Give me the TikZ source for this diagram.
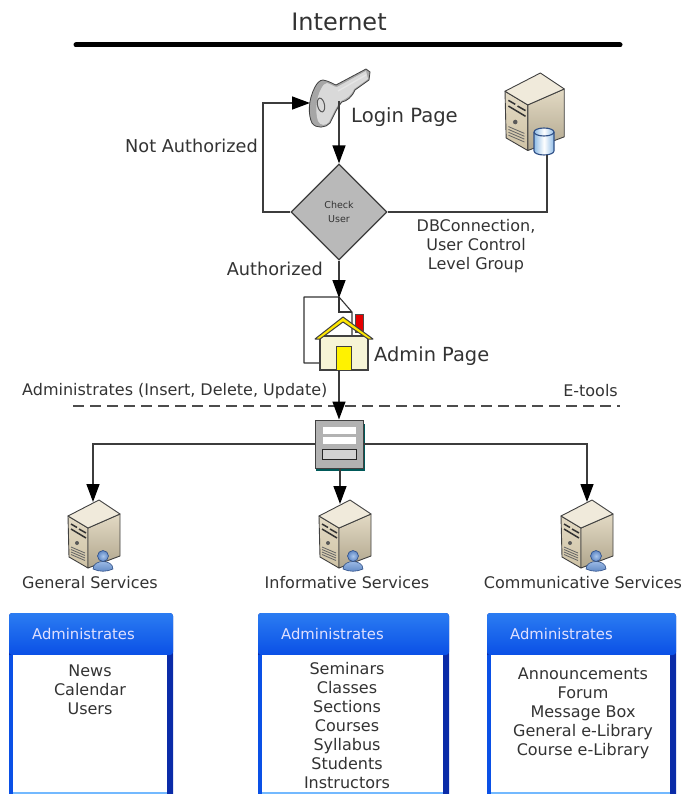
\documentclass[tikz,border=0pt]{standalone}
\usepackage{fontspec}
\setmainfont{DejaVu Sans}
\usetikzlibrary{arrows.meta,shapes.geometric,calc}
\definecolor{inktext}{HTML}{333333}
\definecolor{inkline}{HTML}{3C3C3C}
\definecolor{blueh}{HTML}{0A50E6}
\definecolor{bluetop}{HTML}{2B7CF2}
\definecolor{bluedark}{HTML}{0A2BA8}
\definecolor{towerlight}{HTML}{F0EADB}
\definecolor{towermid}{HTML}{E3DAC4}
\definecolor{towerdark}{HTML}{CFC3A6}
\definecolor{userlight}{HTML}{A9C6EC}
\definecolor{userdark}{HTML}{5E86C4}
\definecolor{userline}{HTML}{2F4F86}
\definecolor{cylblue}{HTML}{8FBCE6}
\tikzset{
  wire/.style={draw=inkline, line width=1.4pt},
  flow/.style={wire, -{Triangle[length=18pt,width=13pt,color=black]}},
  label/.style={text=inktext, inner sep=0pt, font=\fontsize{17.7}{21}\selectfont},
  smalllabel/.style={text=inktext, inner sep=0pt, align=center, font=\fontsize{16}{19}\selectfont},
  listtext/.style={smalllabel, anchor=north},
  headtext/.style={text=white!88!blue, inner sep=0pt, font=\fontsize{14.8}{17}\selectfont},
  servericon/.pic={
    % tower, origin at the top left of the box
    \shade[top color=towermid, bottom color=towerdark, draw=black!75, line width=0.9pt, line join=round]
      (0,16) -- (20,28) -- (20,68) -- (1,57) -- cycle;
    \shade[top color=towermid, bottom color=towerdark!85!black, draw=black!75, line width=0.9pt, line join=round]
      (20,28) -- (52,14) -- (52,56) -- (20,68) -- cycle;
    \fill[towerlight, draw=black!75, line width=0.9pt, line join=round]
      (0,16) -- (31,0) -- (52,14) -- (20,28) -- cycle;
    \draw[black!80, line width=1.5pt] (3,24) -- (9,27.5) (11,29) -- (18,33) (3,29) -- (18,38);
    \fill[black!65] (9,43) circle (2);
    \foreach \gy in {50,52.5,55,57.5}
      \draw[black!60, line width=0.8pt] (3,\gy-3) -- (17,\gy+3);
  },
  usericon/.pic={
    \shade[top color=userlight, bottom color=userdark, draw=userline, line width=0.6pt]
      (-10,10) .. controls (-10,0) and (10,0) .. (10,10) .. controls (4,13) and (-4,13) .. (-10,10) -- cycle;
    \shade[inner color=userlight, outer color=userdark, draw=userline, line width=0.6pt] (0,-3) circle (5.5);
  },
}
\begin{document}
\begin{tikzpicture}[x=1pt,y=-1pt]
  \useasboundingbox (0,0) rectangle (681,794);

  \node (internet) at (339,22) [text=inktext, inner sep=0pt, font=\fontsize{24}{28}\selectfont] {Internet};
  \draw [line width=5pt, line cap=round, black] (76,45) -- (620,45);

  % key
  \fill [gray!70, draw=black!75, line width=0.8pt, line join=round]
    (323,80) .. controls (329,81) and (333,84) .. (336,85) -- (366,69) -- (370,72) -- (369,80) -- (355,90)
    .. controls (352,97) and (347,101) .. (342,102) .. controls (338,106) and (334,115) .. (330,123)
    .. controls (326,128) and (316,129) .. (312,123) .. controls (308,115) and (308,100) .. (315,87)
    .. controls (317,83) and (320,80) .. (323,80) -- cycle;
  \fill [gray!30]
    (327,83) .. controls (331,84) and (334,87) .. (337,87) -- (366,71) -- (368,79) -- (354,89)
    .. controls (351,96) and (346,99) .. (341,101) .. controls (337,105) and (333,114) .. (329,122)
    .. controls (326,126) and (320,126) .. (318,121) .. controls (315,112) and (316,98) .. (321,89)
    .. controls (323,85) and (325,83) .. (327,83) -- cycle;
  \draw [black!65, line width=1pt, rotate around={12:(321,105)}] (321,105) ellipse (3.5 and 7);
  \draw [white!80!gray, line width=1.4pt] (338,91) -- (366,75);

  % database server
  \pic at (505,73) [scale=1.14] {servericon};
  \shade [left color=cylblue, right color=cylblue, middle color=white, draw=userline, line width=1.1pt]
    (534,132) -- (534,151) arc (180:0:10 and 4) -- (554,132) arc (0:-180:10 and 4) -- cycle;
  \draw [userline, line width=1.1pt] (534,132) arc (180:0:10 and 4);
  \coordinate (dbserver) at (547,155);
  \coordinate (keyhead) at (310,103);
  \coordinate (keyshaft) at (339,101);

  \node (checkuser) at (339,212) [diamond, aspect=1, draw=inkline, line width=1.2pt, fill=gray!55, inner sep=0pt,
    minimum width=96, minimum height=96, align=center, text=inktext, font=\fontsize{9.5}{14}\selectfont] {Check\\User};

  \draw [flow] (keyshaft) -- (checkuser.north);
  \draw [flow] (checkuser.west) -- (263,212) -- (263,103) -- (keyhead);
  \draw [wire] (checkuser.east) -| (dbserver);

  \node (login) at (351,117) [label, anchor=west, font=\fontsize{19.6}{23}\selectfont] {Login Page};
  \node (notauth) at (258,146) [label, anchor=east] {Not Authorized};
  \node (auth) at (323,269) [label, anchor=east] {Authorized};
  \node (dbconn) at (476,246) [smalllabel] {DBConnection,\\User Control\\Level Group};

  % admin page
  \draw [fill=white, draw=black!80, line width=1.1pt, line join=round]
    (304,297) -- (339,297) -- (352,312) -- (352,363) -- (304,363) -- cycle;
  \draw [black!80, line width=1.1pt] (339,297) -- (339,312) -- (352,312);
  \fill [red!90!black, draw=black!70, line width=0.5pt] (355,314) -- (363,314) -- (363,332) -- (355,332) -- cycle;
  \fill [yellow!14!white!92!gray, draw=black!75, line width=1.1pt] (320,336) rectangle (368,370);
  \fill [yellow!90!orange, draw=black!75, line width=1pt, line join=round]
    (315,339) -- (343,317) -- (373,339) -- (368,339) -- (343,322) -- (320,339) -- cycle;
  \fill [yellow, draw=black!75, line width=1pt] (336,346) rectangle (351,370);
  \coordinate (house) at (339,370);
  \draw [flow] (checkuser.south) -- (339,298);

  \node (admin) at (374,356) [label, anchor=west, font=\fontsize{19.4}{23}\selectfont] {Admin Page};
  \node (administrates) at (22,391) [smalllabel, anchor=west] {Administrates (Insert, Delete, Update)};
  \node (etools) at (618,391) [smalllabel, anchor=east] {E-tools};
  \draw [line width=1.4pt, dash pattern=on 11pt off 6pt, black!70] (73,406) -- (620,406);

  % panel
  \fill [teal!70!black] (316,424) rectangle (365,471);
  \node (panel) at (339,444) [draw=black!75, line width=1pt, fill=gray!60, minimum width=48, minimum height=48, inner sep=0pt] {};
  \fill [white] (323,427) rectangle (356,434);
  \fill [white] (323,437) rectangle (356,444);
  \draw [fill=gray!35, draw=black!85, line width=1pt] (322,449) rectangle (356,459);

  \draw [flow] (house) -- (panel.north);

  % services
  \pic at (68,500) {servericon};
  \pic at (319,500) {servericon};
  \pic at (561,500) {servericon};
  \pic at (103,559) {usericon};
  \pic at (353,559) {usericon};
  \pic at (596,559) {usericon};
  \coordinate (generalsrv) at (93,502);
  \coordinate (informsrv) at (340,504);
  \coordinate (commsrv) at (587,502);

  \draw [flow] (panel.west) -| (generalsrv);
  \draw [flow] (panel.south -| informsrv) -- (informsrv);
  \draw [flow] (panel.east) -| (commsrv);

  \node (general) at (90,583) [smalllabel] {General Services};
  \node (informative) at (347,583) [smalllabel] {Informative Services};
  \node (communicative) at (583,583) [smalllabel] {Communicative Services};

  % boxes with lists
  \foreach \bname/\bleft/\bright/\bmid/\blist/\ltop in {
    generalbox/9/173/90/{News\\Calendar\\Users}/662,
    informbox/258/449/347/{Seminars\\Classes\\Sections\\Courses\\Syllabus\\Students\\Instructors}/659,
    commbox/487/676/583/{Announcements\\Forum\\Message Box\\General e-Library\\Course e-Library}/665}
  {
    \fill [bluedark, rounded corners=3pt] (\bleft,800) -- (\bleft,613) -- (\bright,613) -- (\bright,800) -- cycle;
    \shade [top color=bluetop, bottom color=blueh, rounded corners=3pt]
      (\bleft,655) -- (\bleft,613) -- (\bright,613) -- (\bright,655) -- cycle;
    \fill [blueh] (\bleft,655) rectangle (\bleft+4,794);
    \fill [white] (\bleft+4,655) rectangle (\bright-6,792);
    \fill [blue!50!cyan!55!white] (\bleft+4,792) rectangle (\bright-6,794);
    \node (\bname-head) at (\bleft+23,634) [headtext, anchor=west] {Administrates};
    \node (\bname-list) at (\bmid,\ltop+3) [listtext] {\blist};
  }
\end{tikzpicture}
\end{document}
